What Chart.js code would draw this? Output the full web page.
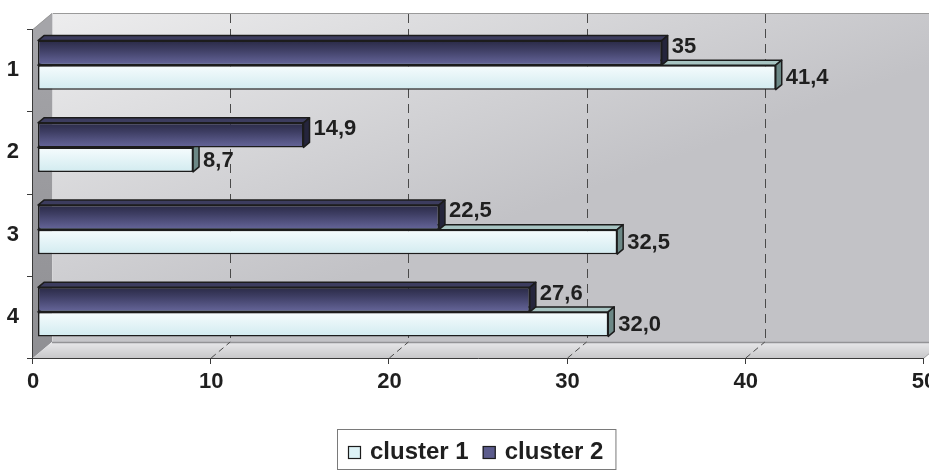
<!DOCTYPE html>
<html>
<head>
<meta charset="utf-8">
<script src="https://cdn.jsdelivr.net/npm/chart.js@4/dist/chart.umd.min.js"></script>
<style>
  html, body { margin: 0; padding: 0; background: #ffffff; }
  #wrap { width: 929px; height: 470px; }
</style>
</head>
<body>
<div id="wrap"><canvas id="c" width="929" height="470"></canvas></div>
<script>
// ---- data ----
const categories = ['1', '2', '3', '4'];
const seriesNames = ['cluster 1', 'cluster 2'];
const cluster1 = ['41.4', '8.7', '32.5', '32.0'];
const cluster2 = ['35', '14.9', '22.5', '27.6'];
const axisMin = 0, axisMax = 50, axisStep = 10;

// ---- look ----
const FONT = '"Liberation Sans", Arial, Helvetica, sans-serif';
const INK = '#1f1f1f';
const EDGE = '#1c1c1c';
const CAT_PCT = 0.596;
const SHIFT = { x: -5, y: 5 };       // front plane relative to the bar plane
const WALL = { dx: 19, dy: -16 };    // depth of the floor / side wall
const BAR = { dx: 6, dy: -5 };       // depth of a bar

const styles = {
  'cluster 1': {
    front: [[0, '#f6fcfd'], [1, '#d2ebf0']],
    top: '#a7c4c2', cap: '#6c8886', key: '#ddf2f6', labelDy: 1
  },
  'cluster 2': {
    front: [[0, '#2a2a46'], [0.35, '#3d3d62'], [1, '#66669b']],
    top: '#3c3c5e', cap: '#25253c', key: '#5b5b8c', labelDy: -6
  }
};

// datasets top-to-bottom inside each category: cluster 2 above cluster 1
const drawOrder = ['cluster 2', 'cluster 1'];
const seriesValues = { 'cluster 1': cluster1, 'cluster 2': cluster2 };

function frontFill(name, pos) {
  const stops = styles[name].front;
  return (c) => {
    const chart = c.chart, ys = chart.scales && chart.scales.y;
    if (!ys || c.dataIndex === undefined || !isFinite(ys.getPixelForValue(c.dataIndex))) {
      return stops[stops.length - 1][1];
    }
    const band = (ys.bottom - ys.top) / categories.length;
    const barH = band * CAT_PCT / drawOrder.length;
    const top = ys.getPixelForValue(c.dataIndex) - band * CAT_PCT / 2 + pos * barH;
    const g = chart.ctx.createLinearGradient(0, top, 0, top + barH);
    stops.forEach(s => g.addColorStop(s[0], s[1]));
    return g;
  };
}

const scene = {
  id: 'scene3d',
  beforeDatasetsDraw(chart) {
    const { ctx, chartArea: a, scales: { x } } = chart;
    const fx = v => x.getPixelForValue(v) + SHIFT.x;
    const x0 = fx(axisMin), x1 = fx(axisMax);
    const yT = a.top + SHIFT.y, yB = a.bottom + SHIFT.y;
    const bx0 = x0 + WALL.dx, bx1 = x1 + WALL.dx;
    const byT = yT + WALL.dy, byB = yB + WALL.dy;
    ctx.save();

    // back wall
    let g = ctx.createLinearGradient(bx0, byT, bx0 + 120, byB);
    g.addColorStop(0, '#ededee');
    g.addColorStop(1, '#c2c2c6');
    ctx.fillStyle = g;
    ctx.fillRect(bx0, byT, bx1 - bx0, byB - byT);

    // left wall
    g = ctx.createLinearGradient(0, yT, 0, yB);
    g.addColorStop(0, '#a5a5a9');
    g.addColorStop(1, '#8f8f93');
    ctx.fillStyle = g;
    ctx.beginPath();
    ctx.moveTo(x0, yT); ctx.lineTo(bx0, byT); ctx.lineTo(bx0, byB); ctx.lineTo(x0, yB);
    ctx.closePath(); ctx.fill();

    // floor
    g = ctx.createLinearGradient(0, byB, 0, yB);
    g.addColorStop(0, '#e8e8ea');
    g.addColorStop(1, '#c8c8ca');
    ctx.fillStyle = g;
    ctx.beginPath();
    ctx.moveTo(x0, yB); ctx.lineTo(bx0, byB); ctx.lineTo(bx1, byB); ctx.lineTo(x1, yB);
    ctx.closePath(); ctx.fill();

    // wall edges
    ctx.lineWidth = 1;
    ctx.strokeStyle = '#9a9a9a';
    ctx.beginPath();
    ctx.moveTo(x0, yT + 0.5); ctx.lineTo(bx0, byT + 0.5); ctx.lineTo(bx1, byT + 0.5);
    ctx.stroke();
    ctx.strokeStyle = '#d6d6d8';
    ctx.beginPath();
    ctx.moveTo(bx0 + 0.5, byT); ctx.lineTo(bx0 + 0.5, byB);
    ctx.stroke();
    ctx.strokeStyle = '#939396';
    ctx.lineWidth = 1.5;
    ctx.beginPath();
    ctx.moveTo(bx0, byB + 0.5); ctx.lineTo(bx1, byB + 0.5);
    ctx.stroke();
    ctx.lineWidth = 1;
    ctx.strokeStyle = '#a0a0a2';
    ctx.beginPath();
    ctx.moveTo(x1, yB); ctx.lineTo(bx1, byB);
    ctx.stroke();

    // dashed grid: back wall verticals and their run across the floor
    ctx.strokeStyle = '#4a4a4a';
    ctx.setLineDash([9, 6]);
    for (let v = axisMin + axisStep; v < axisMax; v += axisStep) {
      const px = Math.round(fx(v)) + 0.5;
      ctx.beginPath();
      ctx.moveTo(px + WALL.dx, byT + 1); ctx.lineTo(px + WALL.dx, byB);
      ctx.stroke();
    }
    ctx.setLineDash([6, 4]);
    for (let v = axisMin + axisStep; v < axisMax; v += axisStep) {
      const px = fx(v);
      ctx.beginPath();
      ctx.moveTo(px, yB); ctx.lineTo(px + WALL.dx, byB);
      ctx.stroke();
    }
    ctx.setLineDash([]);

    // axis lines and ticks
    ctx.strokeStyle = '#3a3a3a';
    ctx.beginPath();
    ctx.moveTo(x0 - 0.5, yT); ctx.lineTo(x0 - 0.5, yB + 0.5); ctx.lineTo(x1, yB + 0.5);
    ctx.stroke();
    ctx.beginPath();
    for (let v = axisMin; v <= axisMax; v += axisStep) {
      const px = Math.round(fx(v)) - 0.5;
      ctx.moveTo(px, yB); ctx.lineTo(px, yB + 6);
    }
    const band = (yB - yT) / categories.length;
    for (let i = 0; i <= categories.length; i++) {
      const py = Math.round(yT + i * band) + 0.5;
      ctx.moveTo(x0 - 6, py); ctx.lineTo(x0, py);
    }
    ctx.stroke();
    ctx.restore();
  },
  afterDatasetDraw(chart, args) {
    const { ctx } = chart;
    const name = chart.data.datasets[args.index].label;
    const st = styles[name];
    ctx.save();
    ctx.lineWidth = 1.5;
    ctx.strokeStyle = EDGE;
    ctx.lineJoin = 'round';
    args.meta.data.forEach(el => {
      const { x, y, base, height } = el.getProps(['x', 'y', 'base', 'height'], true);
      const t = y - height / 2, b = y + height / 2;
      // top face
      ctx.fillStyle = st.top;
      ctx.beginPath();
      ctx.moveTo(base, t); ctx.lineTo(base + BAR.dx, t + BAR.dy);
      ctx.lineTo(x + BAR.dx, t + BAR.dy); ctx.lineTo(x, t);
      ctx.closePath(); ctx.fill(); ctx.stroke();
      // end face
      ctx.fillStyle = st.cap;
      ctx.beginPath();
      ctx.moveTo(x, t); ctx.lineTo(x + BAR.dx, t + BAR.dy);
      ctx.lineTo(x + BAR.dx, b + BAR.dy); ctx.lineTo(x, b);
      ctx.closePath(); ctx.fill(); ctx.stroke();
    });
    ctx.restore();
  },
  afterDatasetsDraw(chart) {
    const { ctx } = chart;
    ctx.save();
    ctx.font = 'bold 22px ' + FONT;
    ctx.fillStyle = INK;
    ctx.textAlign = 'left';
    ctx.textBaseline = 'middle';
    chart.data.datasets.forEach((ds, di) => {
      const st = styles[ds.label];
      chart.getDatasetMeta(di).data.forEach((el, i) => {
        const text = String(ds.data[i]).replace('.', ',');
        ctx.fillText(text, el.x + BAR.dx + 4, el.y + st.labelDy);
      });
    });
    ctx.restore();
  },
  afterDraw(chart) {
    const { ctx } = chart;
    ctx.save();
    ctx.font = 'bold 24px ' + FONT;
    ctx.textBaseline = 'middle';
    const left = 337, top = 429, bottom = 469, midY = 452;
    let cx = left + 11;
    seriesNames.forEach(name => {
      ctx.fillStyle = styles[name].key;
      ctx.fillRect(cx, midY - 6, 13, 13);
      ctx.strokeStyle = EDGE; ctx.lineWidth = 1.2;
      ctx.strokeRect(cx + 0.5, midY - 5.5, 12, 12);
      ctx.fillStyle = INK;
      ctx.fillText(name, cx + 22, midY);
      cx = cx + 22 + ctx.measureText(name).width + 14;
    });
    ctx.strokeStyle = '#7a7a7a'; ctx.lineWidth = 1;
    ctx.strokeRect(left + 0.5, top + 0.5, cx - left - 2, bottom - top);
    ctx.restore();
  }
};

new Chart(document.getElementById('c'), {
  type: 'bar',
  data: {
    labels: categories,
    datasets: drawOrder.map((name, pos) => ({
      label: name,
      data: seriesValues[name],
      backgroundColor: frontFill(name, pos),
      borderColor: EDGE,
      borderWidth: 1.5,
      borderSkipped: false,
      categoryPercentage: CAT_PCT,
      barPercentage: 1.0
    }))
  },
  options: {
    indexAxis: 'y',
    responsive: false,
    animation: false,
    devicePixelRatio: 1,
    layout: { padding: { top: 24, right: 0, bottom: 0, left: 0 }, autoPadding: false },
    plugins: { legend: { display: false }, tooltip: { enabled: false } },
    scales: {
      x: {
        type: 'linear', min: axisMin, max: axisMax,
        grid: { display: false, drawTicks: false },
        border: { display: false },
        ticks: {
          stepSize: axisStep, padding: 16, labelOffset: SHIFT.x,
          color: INK, font: { family: FONT, size: 22, weight: 'bold' }
        },
        afterFit(s) { s.height = 117; s.paddingLeft = 0; s.paddingRight = 0; }
      },
      y: {
        type: 'category',
        grid: { display: false, drawTicks: false },
        border: { display: false },
        ticks: {
          padding: 19, labelOffset: SHIFT.y,
          color: INK, font: { family: FONT, size: 22, weight: 'bold' }
        },
        afterFit(s) { s.width = 38; s.paddingTop = 0; s.paddingBottom = 0; }
      }
    }
  },
  plugins: [scene]
});
</script>
</body>
</html>
